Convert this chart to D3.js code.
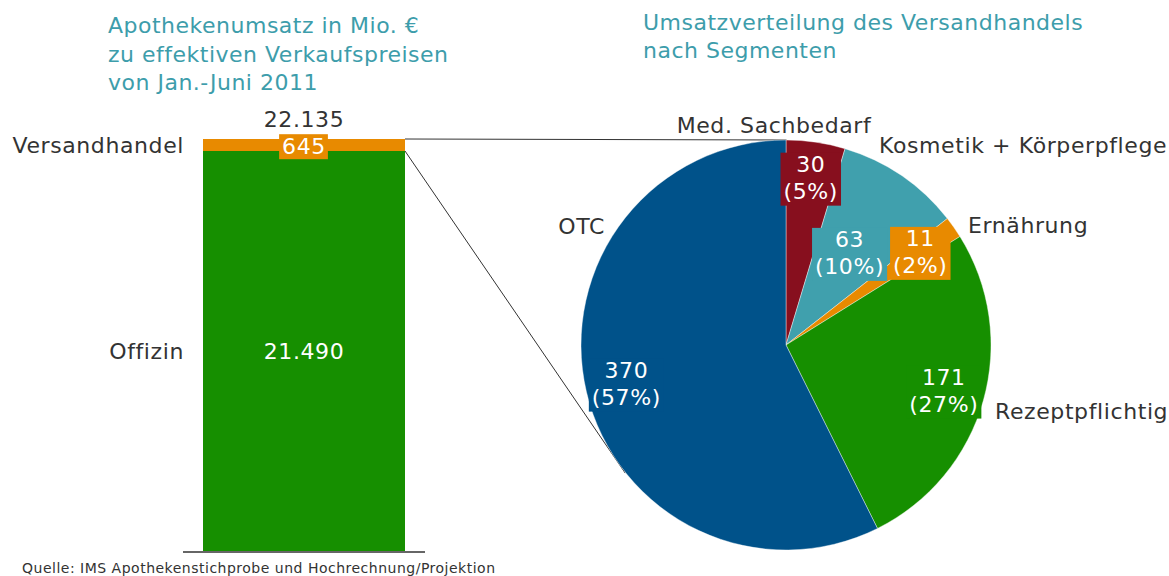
<!DOCTYPE html>
<html>
<head>
<meta charset="utf-8">
<style>
  body { margin: 0; background: #fff; }
  svg text { font-family: "DejaVu Sans", "Noto Sans", sans-serif; }
</style>
</head>
<body>
<script src="https://d3js.org/d3.v7.min.js"></script>
<script>
// bar data
var barCategories = ["Offizin", "Versandhandel"];
var barValues = [21490, 645];

// pie data (Versandhandel split)
var segNames = ["Med. Sachbedarf", "Kosmetik + Körperpflege", "Ernährung", "Rezeptpflichtig", "OTC"];
var segValues = [30, 63, 11, 171, 370];

var titleLeft = ["Apothekenumsatz in Mio. €", "zu effektiven Verkaufspreisen", "von Jan.-Juni 2011"];
var titleRight = ["Umsatzverteilung des Versandhandels", "nach Segmenten"];
var source = "Quelle: IMS Apothekenstichprobe und Hochrechnung/Projektion";

var width = 1169, height = 576;
var barColors = ["#168f00", "#e88a00"];
var segColors = ["#870f1e", "#40a0ad", "#e88a00", "#168f00", "#00528a"];
var teal = "#3d9dab", ink = "#333333";
var fs = "22px", ls = "0.6px";

var de = d3.formatLocale({ decimal: ",", thousands: ".", grouping: [3], currency: ["", " €"] });
var fmt = de.format(",d");

var svg = d3.select("body").append("svg").attr("width", width).attr("height", height);

// titles
svg.append("text").attr("x", 108).attr("y", 33).attr("fill", teal)
  .style("font-size", "22px").style("letter-spacing", "0.5px")
  .selectAll("tspan").data(titleLeft).join("tspan")
  .attr("x", 108).attr("dy", function (d, i) { return i ? 28.5 : 0; }).text(function (d) { return d; });

svg.append("text").attr("x", 643).attr("y", 30).attr("fill", teal)
  .style("font-size", "22px").style("letter-spacing", "0.5px")
  .selectAll("tspan").data(titleRight).join("tspan")
  .attr("x", 643).attr("dy", function (d, i) { return i ? 28 : 0; }).text(function (d) { return d; });

// ---- stacked bar
var total = d3.sum(barValues);
var x = d3.scaleBand().domain(["2011"]).range([203, 405]).padding(0);
var y = d3.scaleLinear().domain([0, total]).range([551, 139]);

var row = {};
barCategories.forEach(function (c, i) { row[c] = barValues[i]; });
var stacked = d3.stack().keys(barCategories)([row]);

// connector lines to the pie (drawn first so the pie sits on top)
var cx = 786, cy = 345, r = 205;
function tangent(px, py, sign) {
  var dx = px - cx, dy = py - cy, d = Math.sqrt(dx * dx + dy * dy);
  var th = Math.atan2(dy, dx) + sign * Math.acos(r / d);
  return [cx + r * Math.cos(th), cy + r * Math.sin(th)];
}
var xr = x("2011") + x.bandwidth();
var t1 = tangent(xr, y(total), 1);
var t2 = tangent(xr, y(barValues[0]), -1);
svg.append("line").attr("x1", xr).attr("y1", y(total)).attr("x2", t1[0]).attr("y2", t1[1])
  .attr("stroke", ink).attr("stroke-width", 1);
svg.append("line").attr("x1", xr).attr("y1", y(barValues[0]))
  .attr("x2", xr + (t2[0] - xr) * 1.04).attr("y2", y(barValues[0]) + (t2[1] - y(barValues[0])) * 1.04)
  .attr("stroke", ink).attr("stroke-width", 1);

svg.selectAll("rect.seg").data(stacked).join("rect").attr("class", "seg")
  .attr("x", x("2011")).attr("width", x.bandwidth())
  .attr("y", function (d) { return y(d[0][1]); })
  .attr("height", function (d) { return y(d[0][0]) - y(d[0][1]); })
  .attr("fill", function (d, i) { return barColors[i]; });

svg.append("line").attr("x1", 183).attr("x2", 425).attr("y1", 552).attr("y2", 552)
  .attr("stroke", ink).attr("stroke-width", 1.5);

// category labels on the left
svg.selectAll("text.cat").data(stacked).join("text").attr("class", "cat")
  .attr("x", 184).attr("text-anchor", "end").attr("fill", ink)
  .style("font-size", fs).style("letter-spacing", ls)
  .attr("y", function (d) { return (y(d[0][0]) + y(d[0][1])) / 2; })
  .attr("dy", "0.35em")
  .text(function (d) { return d.key; });

// value labels in the bar
var mid = x("2011") + x.bandwidth() / 2;
stacked.forEach(function (s, i) {
  var g = svg.append("g");
  var t = g.append("text").attr("x", mid).attr("text-anchor", "middle").attr("fill", "#fff")
    .style("font-size", fs).style("letter-spacing", ls)
    .attr("y", (y(s[0][0]) + y(s[0][1])) / 2 + (i ? 1.5 : 0)).attr("dy", "0.35em")
    .text(fmt(barValues[i]));
  if (i === 1) {
    var b = t.node().getBBox();
    g.insert("rect", "text").attr("x", b.x - 3).attr("y", b.y)
      .attr("width", b.width + 5).attr("height", b.height).attr("fill", barColors[i]);
  }
});
svg.append("text").attr("x", mid).attr("y", 127).attr("text-anchor", "middle")
  .attr("fill", ink).style("font-size", fs).style("letter-spacing", ls).text(fmt(total));

// ---- pie
var segs = segNames.map(function (n, i) { return { name: n, value: segValues[i], color: segColors[i] }; });
var pie = d3.pie().sort(null).value(function (d) { return d.value; });
var arcs = pie(segs);
var arc = d3.arc().innerRadius(0).outerRadius(r);

var pg = svg.append("g").attr("transform", "translate(" + cx + "," + cy + ")");
pg.selectAll("path").data(arcs).join("path")
  .attr("d", arc).attr("fill", function (d) { return d.data.color; })
  .attr("stroke", "#fff").attr("stroke-width", 0.4);

// inner value labels with slice coloured boxes
var segTotal = d3.sum(segValues);
var labelR = { "Med. Sachbedarf": 0.83, "Kosmetik + Körperpflege": 0.55 };
arcs.forEach(function (a) {
  var k = labelR[a.data.name] || 0.8;
  var c = d3.arc().innerRadius(r * k).outerRadius(r * k).centroid(a);
  var g = pg.append("g");
  var t = g.append("text").attr("text-anchor", "middle").attr("fill", "#fff")
    .style("font-size", fs).style("letter-spacing", ls);
  var lines = [a.data.value, "(" + Math.round(a.data.value / segTotal * 100) + "%)"];
  t.selectAll("tspan").data(lines).join("tspan")
    .attr("x", c[0]).attr("y", function (d, i) { return c[1] - 5 + i * 27; })
    .text(function (d) { return d; });
  var b = t.node().getBBox();
  g.insert("rect", "text").attr("x", b.x - 3).attr("y", b.y + 1)
    .attr("width", b.width + 6).attr("height", b.height + 1).attr("fill", a.data.color);
});

// outer category labels
var outer = {
  "Med. Sachbedarf": [-12, -212, "middle"],
  "Kosmetik + Körperpflege": [93, -192, "start"],
  "Ernährung": [182, -112, "start"],
  "Rezeptpflichtig": [209, 74, "start"],
  "OTC": [-181, -111, "end"]
};
pg.selectAll("text.out").data(arcs).join("text").attr("class", "out")
  .attr("x", function (d) { return outer[d.data.name][0]; })
  .attr("y", function (d) { return outer[d.data.name][1]; })
  .attr("text-anchor", function (d) { return outer[d.data.name][2]; })
  .attr("fill", ink).style("font-size", fs).style("letter-spacing", ls)
  .text(function (d) { return d.data.name; });

svg.append("text").attr("x", 22).attr("y", 573).attr("fill", ink)
  .style("font-size", "14px").style("letter-spacing", "0.5px").text(source);
</script>
</body>
</html>
